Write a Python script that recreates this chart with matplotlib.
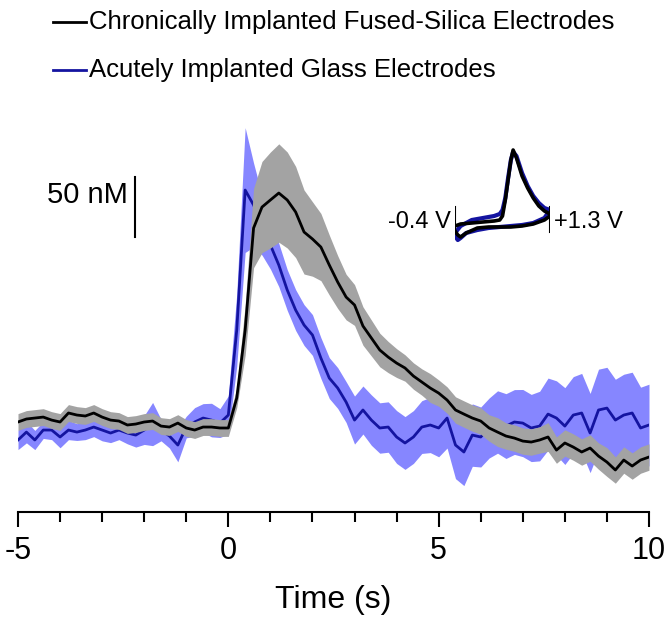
import numpy as np
import matplotlib
matplotlib.use('Agg')
import matplotlib.pyplot as plt
from matplotlib.lines import Line2D

plt.rcParams['font.family'] = ['Liberation Sans', 'DejaVu Sans']

# time axis (s), 0.2 s steps
time_s = np.round(np.arange(-5, 10.0001, 0.2), 1)

# chronically implanted fused-silica electrodes (nM, mean and SEM)
chronic_mean = [6.7, 9.2, 10, 10.8, 8.3, 6.7, 14.2, 12.5, 11.7, 14.2, 10.8, 8.3, 7.5,
                4.2, 5, 6.7, 7.5, 3.3, 2.5, 5.8, 1.7, 0, 2.5, 2.5, 1.7, 1.7,
                26.7, 83.3, 168.3, 185.8, 191.7, 197.5, 191.7, 181.7, 165, 159.2,
                152.5, 137.5, 123.3, 110.8, 104.2, 86.7, 76.7, 66.7, 60.8, 55.8,
                51.7, 45, 40, 35, 30.8, 25, 16.7, 13.3, 10, 7.5, 1.7, -1.7, -5,
                -6.7, -9.2, -10, -8.3, -5.8, -16.7, -10.8, -14.2, -18.3, -15,
                -21.7, -26.7, -33.3, -25, -30, -25, -22.5]
chronic_sem = [7] * 26 + [8, 21, 33, 38, 40, 41, 40, 38, 35, 31, 28, 25, 22, 19, 17,
                          16, 15, 14, 13, 12,
                          11, 11, 11, 12, 11, 11, 11, 11, 11, 11, 11, 12, 11, 11, 11,
                          11, 11, 12, 11, 11, 11, 11, 11, 11, 12, 11, 11, 11, 11, 11]

# acutely implanted glass electrodes (nM, mean and SEM)
acute_mean = [-8.3, -1.7, -8.3, 0, 0, -5.8, 0, -1.7, 0, 2.5, 0, -2.5, 0, -2.5,
              -4.2, 0, 5, 0, -5, -12.5, 2.5, 6.7, 10, 8.3, 5.8, 12.5,
              83.3, 200, 187.5, 170.8, 154.2, 137.5, 116.7, 100, 87.5, 79.2, 60,
              43.3, 35, 23.3, 8.3, 16.7, 8.3, 1.7, 2.5, -5.8, -10.8, -5.8, 2.5,
              4.2, 1.7, 10, -12.5, -18.3, -4.2, -5.8, 1.7, 6.7, 3.3, 6.7, 5.8,
              1.7, 3.3, 13.3, 10, 3.3, 12.5, 14.2, -2.5, 16.7, 18.3, 8.3, 12.5,
              14.2, 1.7, 4.2]
acute_sem = [8, 9, 8, 7, 8, 9, 8, 7, 8, 8, 9, 8, 8, 9, 10, 12, 18, 9, 10, 14, 9, 12,
             12, 14, 12, 16,
             30, 52, 35, 25, 20, 18, 17, 17, 17, 17, 17, 17, 17, 17, 20,
             20, 21, 21, 21, 22, 22, 22, 22, 23, 24, 25, 28, 28, 26, 25,
             25, 26, 27, 27, 28, 28, 29, 30, 31, 32, 32, 33, 33, 34, 34, 34,
             34, 34, 34, 34]

# inset cyclic voltammograms (V, arbitrary current)
cv_fwd_v = [-0.4, -0.3, -0.1, 0.1, 0.3, 0.4, 0.45, 0.5, 0.55, 0.6, 0.64, 0.7, 0.8,
            0.9, 1.0, 1.1, 1.2, 1.3]
cv_fwd_chronic = [2, 4, 5, 6, 7, 8, 12, 28, 48, 68, 78, 70, 52, 40, 30, 22, 17, 14]
cv_fwd_acute = [-5, 2, 8, 10, 12, 14, 18, 30, 50, 68, 76, 72, 55, 42, 32, 25, 20, 18]
cv_rev_v = [1.3, 1.2, 1.0, 0.8, 0.6, 0.4, 0.2, 0.0, -0.2, -0.3, -0.35, -0.4]
cv_rev_chronic = [12, 8, 4, 2, 1, 1, 1, 0, -5, -9, -7, -3]
cv_rev_acute = [18, 10, 5, 3, 2, 1, 0, -2, -5, -10, -12, -8]

black = '#000000'
gray = '#a3a3a3'
blue = '#1414a0'
light_blue = '#8686ff'

fig = plt.figure(figsize=(6.68, 6.17), dpi=100)
W, H = 668, 617
ax = fig.add_axes([18 / W, (H - 512) / H, 631 / W, 402 / H])

t = np.array(time_s)
cm, cs = np.array(chronic_mean), np.array(chronic_sem)
am, asem = np.array(acute_mean), np.array(acute_sem)

ax.fill_between(t, am - asem, am + asem, color=light_blue, lw=0, zorder=1)
ax.plot(t, am, color=blue, lw=2.0, zorder=2)
ax.fill_between(t, cm - cs, cm + cs, color=gray, lw=0, zorder=3)
ax.plot(t, cm, color=black, lw=2.0, zorder=4)

ax.set_xlim(-5, 10)
ax.set_ylim(-68.3, 266.7)
for s in ['left', 'top', 'right']:
    ax.spines[s].set_visible(False)
ax.spines['bottom'].set_linewidth(1.5)
ax.set_yticks([])
ax.set_xticks([-5, 0, 5, 10])
ax.set_xticks(np.arange(-5, 11, 1), minor=True)
ax.tick_params(axis='x', which='major', direction='out', length=11, width=1.5,
               labelsize=22, pad=6)
ax.tick_params(axis='x', which='minor', direction='out', length=7, width=1.5)
ax.set_xticklabels(['-5', '0', '5', '10'])
ax.set_xlabel('Time (s)', fontsize=23, labelpad=14)

# scale bar
ax.plot([-2.22, -2.22], [161, 211], color=black, lw=1.5, clip_on=False)
ax.text(-2.38, 196, '50 nM', fontsize=21, ha='right', va='center')

# inset CV
ins = fig.add_axes([455 / W, (H - 245) / H, 95 / W, 105 / H])
ins.plot(cv_fwd_v, cv_fwd_acute, color=blue, lw=3.0)
ins.plot(cv_rev_v, cv_rev_acute, color=blue, lw=3.0)
ins.plot(cv_fwd_v, cv_fwd_chronic, color=black, lw=2.6)
ins.plot(cv_rev_v, cv_rev_chronic, color=black, lw=2.6)
ins.plot([-0.4, -0.4], [-4, 21], color=black, lw=1.5)
ins.plot([1.3, 1.3], [-4, 21], color=black, lw=1.5)
ins.set_xlim(-0.4, 1.3)
ins.set_ylim(-17, 88)
ins.axis('off')
ins.text(-0.47, 6, '-0.4 V', fontsize=17, ha='right', va='center')
ins.text(1.38, 6, '+1.3 V', fontsize=17, ha='left', va='center')

# legend
legend_items = ['Chronically Implanted Fused-Silica Electrodes',
                'Acutely Implanted Glass Electrodes']
legend_colors = [black, blue]
for i, (lab, c) in enumerate(zip(legend_items, legend_colors)):
    yy = 1 - (22 + 48 * i) / H
    fig.add_artist(Line2D([53 / W, 86 / W], [yy, yy], color=c, lw=2.0))
    fig.text(89 / W, yy, lab, fontsize=18.5, ha='left', va='center')

fig.savefig('out.png', dpi=100)
